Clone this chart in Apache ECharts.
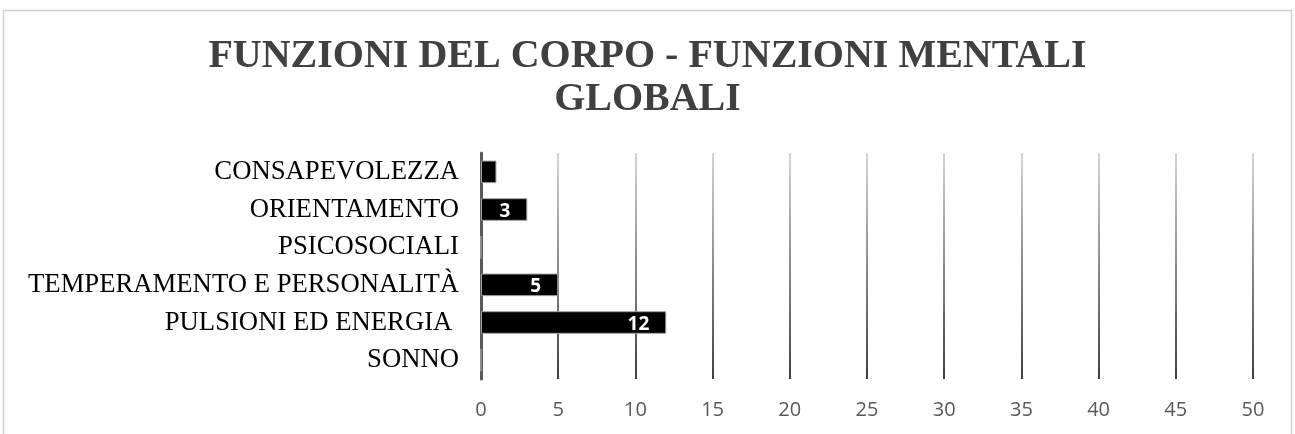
<!DOCTYPE html>
<html><head><meta charset="utf-8">
<script src="https://cdn.jsdelivr.net/npm/echarts@6/dist/echarts.min.js"></script>
<style>html,body{margin:0;padding:0;background:#fff}#c{width:1295px;height:434px}</style>
</head><body><div id="c"></div>
<script>
var categories = ['CONSAPEVOLEZZA','ORIENTAMENTO','PSICOSOCIALI','TEMPERAMENTO E PERSONALITÀ','PULSIONI ED ENERGIA ','SONNO'];
var values = [1,3,0,5,12,0];
var tickMin = 0, tickMax = 50, tickStep = 5;
var titleText = 'FUNZIONI DEL CORPO - FUNZIONI MENTALI\nGLOBALI';

var chart = echarts.init(document.getElementById('c'));
var gridTop = 153, gridBottom = 379;
chart.setOption({
  animation:false,
  title:{text:titleText,left:'center',top:30,
    textStyle:{fontFamily:'Liberation Serif',fontWeight:'bold',fontSize:40,color:'#404040',lineHeight:43}},
  graphic:[{type:'rect',shape:{x:3.5,y:10.5,width:1288,height:440},style:{fill:null,stroke:'#d0d0d0',lineWidth:1.5},silent:true}],
  grid:{left:481,right:42,top:gridTop,bottom:434-gridBottom,containLabel:false},
  xAxis:{type:'value',min:tickMin,max:tickMax,interval:tickStep,
    axisLine:{show:false},axisTick:{show:false},
    axisLabel:{fontFamily:'Open Sans',fontSize:20,color:'#595959',margin:21},
    splitLine:{lineStyle:{width:1.5,color:{type:'linear',x:0,y:gridTop,x2:0,y2:gridBottom,global:true,
      colorStops:[{offset:0,color:'#c8c8c8'},{offset:1,color:'#000000'}]}}}},
  yAxis:{type:'category',data:categories,inverse:true,
    axisLine:{show:true,lineStyle:{color:'#595959',width:3}},axisTick:{show:false},
    axisLabel:{fontFamily:'Liberation Serif',fontSize:26.7,color:'#000',margin:22}},
  series:[{type:'bar',data:values,barWidth:'60%',
    itemStyle:{color:'#000',borderColor:'#a0a0a0',borderWidth:1},
    label:{show:true,position:'insideRight',color:'#fff',fontFamily:'Open Sans',fontWeight:'bold',fontSize:19,offset:[-12,2],
      formatter:function(p){return p.value>=2?p.value:'';}}}]
});
</script></body></html>
